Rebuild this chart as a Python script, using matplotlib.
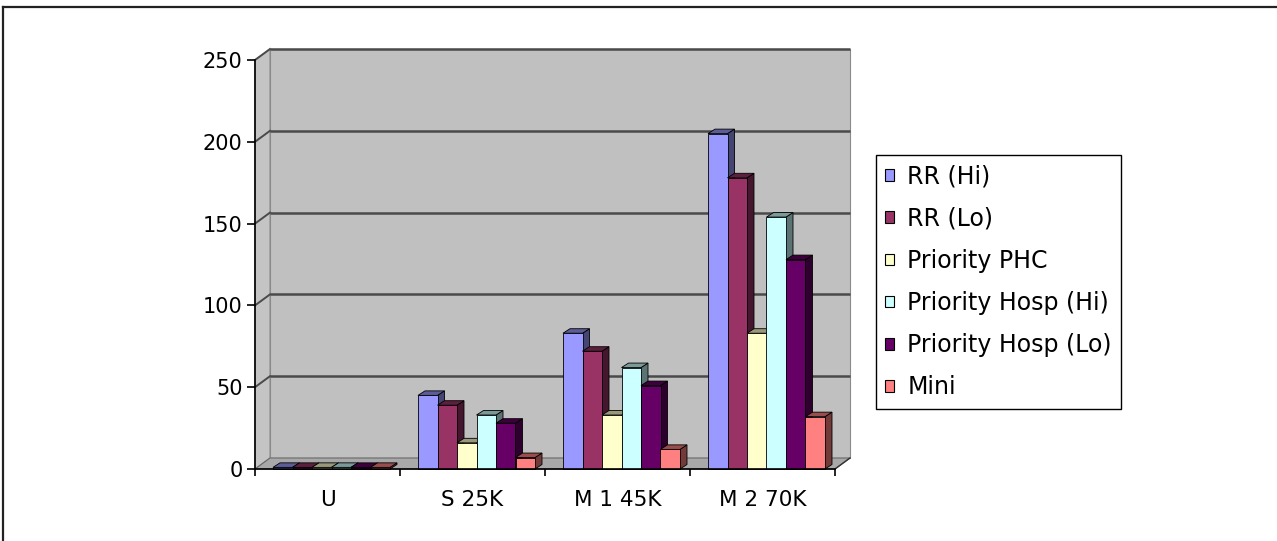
import matplotlib
matplotlib.use("Agg")
import matplotlib.pyplot as plt
from matplotlib.patches import Polygon, Patch
from matplotlib.lines import Line2D
import numpy as np

# ---- data -------------------------------------------------------------
categories = ["U", "S 25K", "M 1 45K", "M 2 70K"]
series = ["RR (Hi)", "RR (Lo)", "Priority PHC", "Priority Hosp (Hi)",
          "Priority Hosp (Lo)", "Mini"]
rr_hi = [1, 45, 83, 205]
rr_lo = [1, 39, 72, 178]
priority_phc = [1, 16, 33, 83]
priority_hosp_hi = [1, 33, 62, 154]
priority_hosp_lo = [1, 28, 51, 128]
mini = [1, 7, 12, 32]
values = [rr_hi, rr_lo, priority_phc, priority_hosp_hi, priority_hosp_lo, mini]
y_ticks = [0, 50, 100, 150, 200, 250]

colors = ["#9999FF", "#993366", "#FFFFCC", "#CCFFFF", "#660066", "#FF8080"]

# ---- figure -----------------------------------------------------------
W, H, DPI = 1277, 541, 100
fig = plt.figure(figsize=(W / DPI, H / DPI), dpi=DPI, facecolor="white")

# front plane of the pseudo-3D plot (pixel box)
x0_px, x1_px = 255, 835
y0_px, y1_px = 469, 60          # image rows for value 0 and 250
ax = fig.add_axes([x0_px / W, (H - y0_px) / H,
                   (x1_px - x0_px) / W, (y0_px - y1_px) / H])
ax.set_xlim(0, len(categories))
ax.set_ylim(0, 250)
ax.patch.set_visible(False)

px_x = (x1_px - x0_px) / len(categories)   # pixels per category
px_y = (y0_px - y1_px) / 250.0             # pixels per value unit

# depth of the floor / walls
DX = 15 / px_x
DY = 11 / px_y
# depth of each column
ddx = 7 / px_x
ddy = 4.5 / px_y

grid_col = "#4a4a4a"
wall_col = "#c0c0c0"
floor_col = "#a9a9a9"
ymax = y_ticks[-1]
ncat = len(categories)

# back wall
ax.add_patch(Polygon([(DX, DY), (ncat + DX, DY), (ncat + DX, ymax + DY), (DX, ymax + DY)],
                     closed=True, facecolor=wall_col, edgecolor="#8a8a8a", lw=0.8,
                     zorder=0.5, clip_on=False))
# left side wall
ax.add_patch(Polygon([(0, 0), (DX, DY), (DX, ymax + DY), (0, ymax)],
                     closed=True, facecolor="#c4c4c4", edgecolor="#8a8a8a", lw=0.8,
                     zorder=0.6, clip_on=False))
# floor
ax.add_patch(Polygon([(0, 0), (ncat, 0), (ncat + DX, DY), (DX, DY)],
                     closed=True, facecolor=floor_col, edgecolor="#6a6a6a", lw=0.8,
                     zorder=0.7, clip_on=False))

# gridlines on the back wall and side wall
for v in y_ticks[1:]:
    ax.plot([DX, ncat + DX], [v + DY, v + DY], color=grid_col, lw=1.8,
            zorder=0.9, clip_on=False, solid_capstyle="butt")
    ax.plot([0, DX], [v, v + DY], color=grid_col, lw=1.4,
            zorder=0.9, clip_on=False)
# right edge of the floor
ax.plot([ncat, ncat + DX], [0, DY], color="#333333", lw=1.0, zorder=0.9, clip_on=False)


def shade(hex_color, f):
    c = np.array(matplotlib.colors.to_rgb(hex_color))
    return tuple(c * f)


# columns
nser = len(series)
bw = 19.5 / px_x
shift = 4 / px_x
z = 1.0
for j in range(ncat):
    for i in range(nser):
        v = values[i][j]
        x = j + 0.5 + shift + (i - nser / 2) * bw
        side = [(x + bw, 0), (x + bw + ddx, ddy), (x + bw + ddx, v + ddy), (x + bw, v)]
        top = [(x, v), (x + ddx, v + ddy), (x + bw + ddx, v + ddy), (x + bw, v)]
        ax.add_patch(Polygon(side, closed=True, facecolor=shade(colors[i], 0.45),
                             edgecolor="black", lw=0.6, zorder=z, clip_on=False))
        ax.add_patch(Polygon(top, closed=True, facecolor=shade(colors[i], 0.6),
                             edgecolor="black", lw=0.6, zorder=z + 0.1, clip_on=False))
        ax.bar(x, v, width=bw, align="edge", color=colors[i], edgecolor="black",
               lw=0.6, zorder=z + 0.2, clip_on=False)
        z += 0.3

# axes: left value axis and front category axis
for s in ["top", "right"]:
    ax.spines[s].set_visible(False)
ax.spines["left"].set_color("black")
ax.spines["bottom"].set_color("black")
ax.spines["left"].set_linewidth(1.2)
ax.spines["bottom"].set_linewidth(1.2)
ax.spines["left"].set_zorder(50)
ax.spines["bottom"].set_zorder(50)

ax.set_yticks(y_ticks)
ax.set_yticklabels([str(t) for t in y_ticks])
ax.set_xticks(np.arange(ncat + 1))
ax.set_xticklabels([])
ax.set_xticks(np.arange(ncat) + 0.5, minor=True)
ax.set_xticklabels(categories, minor=True)
ax.tick_params(axis="y", direction="out", length=6, width=1.2, pad=3,
               labelsize=15, colors="black")
ax.tick_params(axis="x", which="major", direction="out", length=5, width=1.2)
ax.tick_params(axis="x", which="minor", length=0, pad=15, labelsize=15.5)
for lab in ax.get_yticklabels() + ax.get_xticklabels(minor=True):
    lab.set_fontfamily("DejaVu Sans")

# legend
handles = [Patch(facecolor=c, edgecolor="black", lw=0.8) for c in colors]
leg = fig.legend(handles, series, loc="upper left",
                 bbox_to_anchor=(876 / W, (H - 155) / H),
                 prop={"family": "DejaVu Sans", "size": 17},
                 frameon=True, fancybox=False, edgecolor="black", framealpha=1,
                 borderaxespad=0, borderpad=0.4, labelspacing=0.77,
                 handlelength=0.38, handleheight=0.38, handletextpad=0.55)
leg.get_frame().set_linewidth(1.0)

# outer frame lines at top and left
fig.add_artist(Line2D([3 / W, 1.0], [(H - 7) / H, (H - 7) / H],
                      transform=fig.transFigure, color="#222222", lw=1.6))
fig.add_artist(Line2D([3 / W, 3 / W], [0, (H - 7) / H],
                      transform=fig.transFigure, color="#222222", lw=1.6))

fig.savefig("out.png", dpi=DPI, facecolor="white")
